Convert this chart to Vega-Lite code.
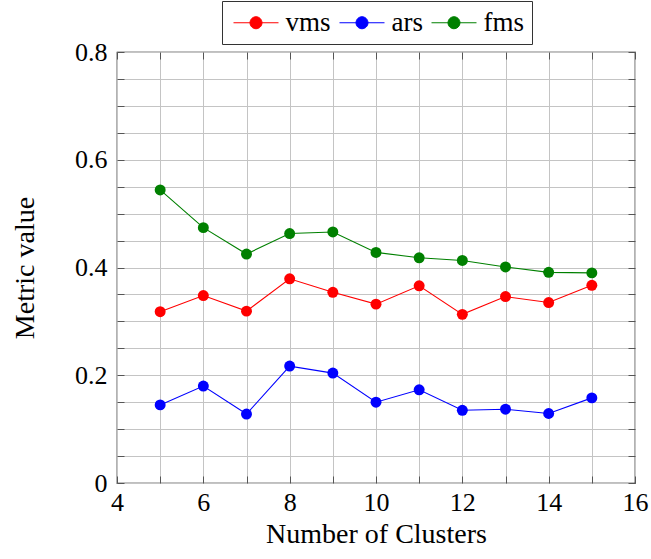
{
  "$schema": "https://vega.github.io/schema/vega-lite/v6.json",
  "width": 518,
  "height": 431,
  "autosize": {"type": "none"},
  "padding": {"left": 117, "top": 52, "right": 16, "bottom": 76},
  "background": "white",
  "config": {
    "view": {"stroke": "black", "strokeWidth": 1.2},
    "font": "Liberation Serif",
    "axis": {
      "domain": false,
      "labelFont": "Liberation Serif",
      "titleFont": "Liberation Serif",
      "labelColor": "black",
      "titleColor": "black",
      "titleFontWeight": "normal",
      "gridColor": "#c4c4c4",
      "gridWidth": 1,
      "gridOpacity": 1,
      "tickColor": "#555555",
      "tickSize": -7,
      "tickWidth": 1,
      "labelFlush": false
    },
    "legend": {"labelFont": "Liberation Serif"}
  },
  "data": {
    "values": [
      {"k": 5, "metric": "vms", "v": 0.318},
      {"k": 6, "metric": "vms", "v": 0.348},
      {"k": 7, "metric": "vms", "v": 0.319},
      {"k": 8, "metric": "vms", "v": 0.379},
      {"k": 9, "metric": "vms", "v": 0.354},
      {"k": 10, "metric": "vms", "v": 0.332},
      {"k": 11, "metric": "vms", "v": 0.366},
      {"k": 12, "metric": "vms", "v": 0.313},
      {"k": 13, "metric": "vms", "v": 0.346},
      {"k": 14, "metric": "vms", "v": 0.335},
      {"k": 15, "metric": "vms", "v": 0.367},
      {"k": 5, "metric": "ars", "v": 0.145},
      {"k": 6, "metric": "ars", "v": 0.180},
      {"k": 7, "metric": "ars", "v": 0.128},
      {"k": 8, "metric": "ars", "v": 0.217},
      {"k": 9, "metric": "ars", "v": 0.204},
      {"k": 10, "metric": "ars", "v": 0.150},
      {"k": 11, "metric": "ars", "v": 0.173},
      {"k": 12, "metric": "ars", "v": 0.135},
      {"k": 13, "metric": "ars", "v": 0.137},
      {"k": 14, "metric": "ars", "v": 0.129},
      {"k": 15, "metric": "ars", "v": 0.158},
      {"k": 5, "metric": "fms", "v": 0.544},
      {"k": 6, "metric": "fms", "v": 0.474},
      {"k": 7, "metric": "fms", "v": 0.425},
      {"k": 8, "metric": "fms", "v": 0.463},
      {"k": 9, "metric": "fms", "v": 0.466},
      {"k": 10, "metric": "fms", "v": 0.428},
      {"k": 11, "metric": "fms", "v": 0.418},
      {"k": 12, "metric": "fms", "v": 0.413},
      {"k": 13, "metric": "fms", "v": 0.401},
      {"k": 14, "metric": "fms", "v": 0.391},
      {"k": 15, "metric": "fms", "v": 0.390}
    ]
  },
  "resolve": {"axis": {"x": "independent", "y": "independent"}},
  "layer": [
    {
      "mark": {"type": "line", "strokeWidth": 1.1},
      "encoding": {
        "x": {
          "field": "k", "type": "quantitative",
          "scale": {"domain": [4, 16], "nice": false, "zero": false},
          "axis": {
            "orient": "bottom",
            "values": [4, 5, 6, 7, 8, 9, 10, 11, 12, 13, 14, 15, 16],
            "labelExpr": "datum.value % 2 == 0 ? datum.label : ''",
            "labelFont": "Liberation Serif",
            "labelFontSize": 26,
            "labelBaseline": "alphabetic",
            "labelPadding": 34,
            "labelFlush": false,
            "labelOverlap": false,
            "title": "Number of Clusters",
            "titleFontSize": 28,
            "titleBaseline": "alphabetic",
            "titleY": 59,
            "grid": true
          }
        },
        "y": {
          "field": "v", "type": "quantitative",
          "scale": {"domain": [0, 0.8], "nice": false},
          "axis": {
            "orient": "left",
            "values": [0, 0.05, 0.1, 0.15, 0.2, 0.25, 0.3, 0.35, 0.4, 0.45, 0.5, 0.55, 0.6, 0.65, 0.7, 0.75, 0.8],
            "labelExpr": "datum.value == 0 ? '0' : (round(datum.value * 100) % 20 == 0 ? format(datum.value, '.1f') : '')",
            "labelFont": "Liberation Serif",
            "labelFontSize": 26,
            "labelPadding": 17,
            "labelFlush": false,
            "labelOverlap": false,
            "title": "Metric value",
            "titleFontSize": 28,
            "titleBaseline": "alphabetic",
            "titleX": -84,
            "titleY": 215.5,
            "grid": true
          }
        },
        "color": {
          "field": "metric", "type": "nominal",
          "scale": {"domain": ["vms", "ars", "fms"], "range": ["#ff0000", "#0000ff", "#008000"]},
          "legend": {
            "orient": "none",
            "legendX": 105,
            "legendY": -51,
            "direction": "horizontal",
            "title": null,
            "strokeColor": "#333333",
            "padding": 8,
            "symbolType": "M-2.25,0L2.25,0M0.6,0A0.6,0.6,0,1,1,-0.6,0A0.6,0.6,0,1,1,0.6,0Z",
            "symbolSize": 400,
            "symbolOffset": 12.5,
            "symbolStrokeWidth": 1,
            "labelFont": "Liberation Serif",
            "labelFontSize": 27,
            "labelColor": "black",
            "labelOffset": 16,
            "columnPadding": 5,
            "encode": {
              "symbols": {"update": {"fill": {"scale": "color", "field": "value"}, "stroke": {"scale": "color", "field": "value"}, "fillOpacity": {"value": 1}, "strokeOpacity": {"value": 1}}}
            }
          }
        }
      }
    },
    {
      "mark": {"type": "point", "filled": true, "size": 120, "opacity": 1},
      "encoding": {
        "x": {
          "field": "k", "type": "quantitative",
          "axis": {
            "orient": "top",
            "values": [4, 5, 6, 7, 8, 9, 10, 11, 12, 13, 14, 15, 16],
            "labels": false, "grid": false, "title": null
          }
        },
        "y": {
          "field": "v", "type": "quantitative",
          "axis": {
            "orient": "right",
            "values": [0, 0.05, 0.1, 0.15, 0.2, 0.25, 0.3, 0.35, 0.4, 0.45, 0.5, 0.55, 0.6, 0.65, 0.7, 0.75, 0.8],
            "labels": false, "grid": false, "title": null
          }
        },
        "color": {
          "field": "metric", "type": "nominal",
          "legend": {
            "orient": "none",
            "legendX": 105,
            "legendY": -51,
            "direction": "horizontal",
            "title": null,
            "strokeColor": "#333333",
            "padding": 8,
            "symbolType": "M-2.25,0L2.25,0M0.6,0A0.6,0.6,0,1,1,-0.6,0A0.6,0.6,0,1,1,0.6,0Z",
            "symbolSize": 400,
            "symbolOffset": 12.5,
            "symbolStrokeWidth": 1,
            "labelFont": "Liberation Serif",
            "labelFontSize": 27,
            "labelColor": "black",
            "labelOffset": 16,
            "columnPadding": 5,
            "encode": {
              "symbols": {"update": {"fill": {"scale": "color", "field": "value"}, "stroke": {"scale": "color", "field": "value"}, "fillOpacity": {"value": 1}, "strokeOpacity": {"value": 1}}}
            }
          }
        }
      }
    }
  ]
}
